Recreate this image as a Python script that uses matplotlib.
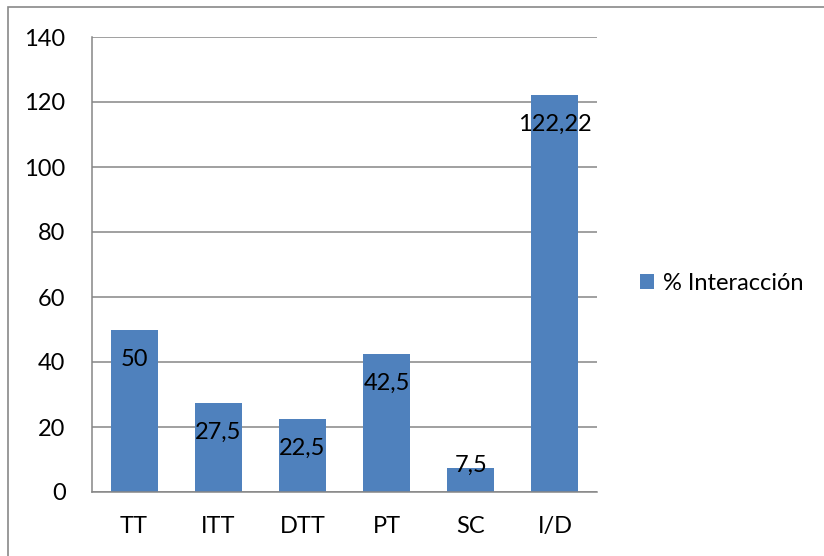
import matplotlib
matplotlib.use('Agg')
import matplotlib.pyplot as plt
from matplotlib.patches import Rectangle

categories = ['TT', 'ITT', 'DTT', 'PT', 'SC', 'I/D']
values = [50, 27.5, 22.5, 42.5, 7.5, 122.22]
value_labels = ['50', '27,5', '22,5', '42,5', '7,5', '122,22']
series_name = '% Interacción'
yticks = [0, 20, 40, 60, 80, 100, 120, 140]

bar_color = '#4F81BD'
grid_color = '#868686'

plt.rcParams['font.family'] = ['Lato', 'DejaVu Sans']
fs = 17

fig = plt.figure(figsize=(8.24, 5.56), dpi=100)
ax = fig.add_axes([92 / 824, 1 - 492 / 556, (597 - 92) / 824, (492 - 37) / 556])

x = range(len(categories))
bars = ax.bar(x, values, width=0.56, color=bar_color, label=series_name, zorder=3)

ax.set_xlim(-0.5, len(categories) - 0.5)
ax.set_ylim(0, 140)
ax.set_yticks(yticks)
ax.set_xticks(list(x))
ax.set_xticklabels(categories)
ax.tick_params(axis='both', length=0, labelsize=fs, colors='black')
ax.tick_params(axis='y', pad=19)
ax.tick_params(axis='x', pad=17)

ax.yaxis.grid(True, color=grid_color, linewidth=1.1, zorder=0)
ax.set_axisbelow(True)
for side in ['top', 'right']:
    ax.spines[side].set_visible(False)
for side in ['left', 'bottom']:
    ax.spines[side].set_color(grid_color)
    ax.spines[side].set_linewidth(1.1)
    ax.spines[side].set_zorder(4)

# data labels near the inside end of each bar
for bar, val, lab in zip(bars, values, value_labels):
    off = -21.5 if val > 15 else 1.5
    ax.annotate(lab, (bar.get_x() + bar.get_width() / 2, val),
                xytext=(0, off), textcoords='offset points',
                ha='center', va='center', fontsize=fs, zorder=5)

ax.legend(loc='center left', bbox_to_anchor=(640 / 824, 1 - 283 / 556),
          bbox_transform=fig.transFigure, frameon=False, fontsize=fs,
          handlelength=0.6, handleheight=0.6, handletextpad=0.36,
          borderpad=0, borderaxespad=0)

# chart area border (only top and left visible in the crop)
fig.patches.append(Rectangle((8 / 824, -0.1), 1.2, 1 - 7 / 556 + 0.1,
                             transform=fig.transFigure, fill=False,
                             edgecolor='#898989', linewidth=1.2))

fig.savefig('out.png', dpi=100)
